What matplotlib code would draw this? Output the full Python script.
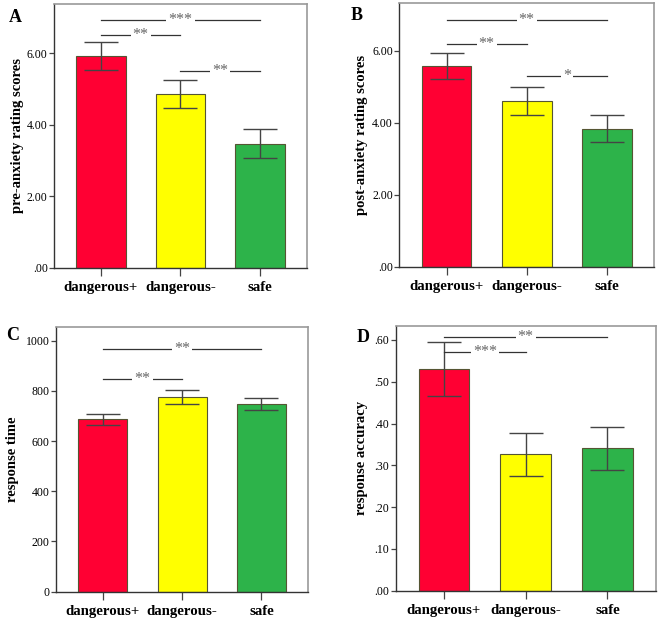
import matplotlib
matplotlib.use("Agg")
import matplotlib.pyplot as plt
from matplotlib.ticker import FixedLocator

plt.rcParams['font.family'] = ['Liberation Serif', 'DejaVu Serif']

categories = ["dangerous+", "dangerous-", "safe"]
bar_colors = ["#ff0033", "#ffff00", "#2db34a"]

# panel A: pre-anxiety
pre_mean = [5.92, 4.85, 3.47]
pre_lo = [5.52, 4.48, 3.08]
pre_hi = [6.32, 5.24, 3.87]
pre_sig = [(0, 2, 6.93, "***"), (0, 1, 6.50, "**"), (1, 2, 5.49, "**")]

# panel B: post-anxiety
post_mean = [5.57, 4.61, 3.84]
post_lo = [5.21, 4.22, 3.46]
post_hi = [5.94, 5.00, 4.21]
post_sig = [(0, 2, 6.85, "**"), (0, 1, 6.19, "**"), (1, 2, 5.30, "*")]

# panel C: response time
rt_mean = [686, 774, 748]
rt_lo = [663, 746, 725]
rt_hi = [709, 802, 773]
rt_sig = [(0, 2, 965, "**"), (0, 1, 846, "**")]

# panel D: response accuracy
acc_mean = [0.531, 0.326, 0.341]
acc_lo = [0.467, 0.274, 0.289]
acc_hi = [0.594, 0.378, 0.392]
acc_sig = [(0, 2, 0.606, "**"), (0, 1, 0.570, "***")]


def dot_fmt(v):
    return ("%.2f" % v).lstrip("0") if v < 1 else "%.2f" % v


panels = [
    dict(letter="A", label="pre-anxiety rating scores", mean=pre_mean, lo=pre_lo, hi=pre_hi,
         sig=pre_sig, ymax=7.37, ticks=[0, 2, 4, 6], fmt=dot_fmt,
         rect=[0.0818, 0.5726, 0.3833, 0.421], letter_xy=(15, 18), ylab_x=18),
    dict(letter="B", label="post-anxiety rating scores", mean=post_mean, lo=post_lo, hi=post_hi,
         sig=post_sig, ymax=7.32, ticks=[0, 2, 4, 6], fmt=dot_fmt,
         rect=[0.605, 0.5746, 0.386, 0.420], letter_xy=(357, 16), ylab_x=362),
    dict(letter="C", label="response time", mean=rt_mean, lo=rt_lo, hi=rt_hi,
         sig=rt_sig, ymax=1053, ticks=[0, 200, 400, 600, 800, 1000], fmt=lambda v: "%d" % v,
         rect=[0.0848, 0.0563, 0.3823, 0.4217], letter_xy=(13, 335), ylab_x=13),
    dict(letter="D", label="response accuracy", mean=acc_mean, lo=acc_lo, hi=acc_hi,
         sig=acc_sig, ymax=0.634, ticks=[0, .1, .2, .3, .4, .5, .6], fmt=dot_fmt,
         rect=[0.5995, 0.0579, 0.394, 0.4226], letter_xy=(363, 338), ylab_x=362),
]

W, H = 660, 627
fig = plt.figure(figsize=(W / 100, H / 100), dpi=100)

for p in panels:
    ax = fig.add_axes(p["rect"])
    x = range(len(categories))
    ax.bar(x, p["mean"], width=0.62, color=bar_colors, edgecolor="#555533", linewidth=0.8, zorder=2)
    yerr = [[m - l for m, l in zip(p["mean"], p["lo"])],
            [h - m for m, h in zip(p["mean"], p["hi"])]]
    ax.errorbar(x, p["mean"], yerr=yerr, fmt="none", ecolor="#444444", elinewidth=1.0,
                capsize=12, capthick=1.0, zorder=3)
    ax.set_xlim(-0.59, 2.59)
    ax.set_ylim(0, p["ymax"])
    ax.yaxis.set_major_locator(FixedLocator(p["ticks"]))
    ax.set_yticklabels([p["fmt"](t) for t in p["ticks"]], fontsize=8.5)
    ax.set_xticks(list(x))
    ax.set_xticklabels(categories, fontsize=10.7, fontweight="bold")
    ax.tick_params(axis="x", direction="out", length=6, width=0.9, color="#444444", pad=3.5)
    ax.tick_params(axis="y", direction="out", length=3.5, width=0.9, color="#444444", pad=1)
    for side in ["top", "right"]:
        ax.spines[side].set_color("#999999")
        ax.spines[side].set_linewidth(1.2)
    for side in ["left", "bottom"]:
        ax.spines[side].set_color("#333333")
        ax.spines[side].set_linewidth(1.0)

    for x0, x1, y, stars in p["sig"]:
        ax.plot([x0, x1], [y, y], color="#333333", linewidth=0.9, zorder=4)
        ax.text((x0 + x1) / 2, y, stars, ha="center", va="center", fontsize=11.5,
                color="#666666", zorder=5,
                bbox=dict(facecolor="white", edgecolor="none", pad=1.5))

    fig.text(p["ylab_x"] / W, p["rect"][1] + p["rect"][3] / 2, p["label"],
             rotation=90, ha="center", va="center", fontsize=10.5, fontweight="bold")
    fig.text(p["letter_xy"][0] / W, 1 - p["letter_xy"][1] / H, p["letter"],
             ha="center", va="center", fontsize=13, fontweight="bold")

fig.savefig("out.png", dpi=100)
